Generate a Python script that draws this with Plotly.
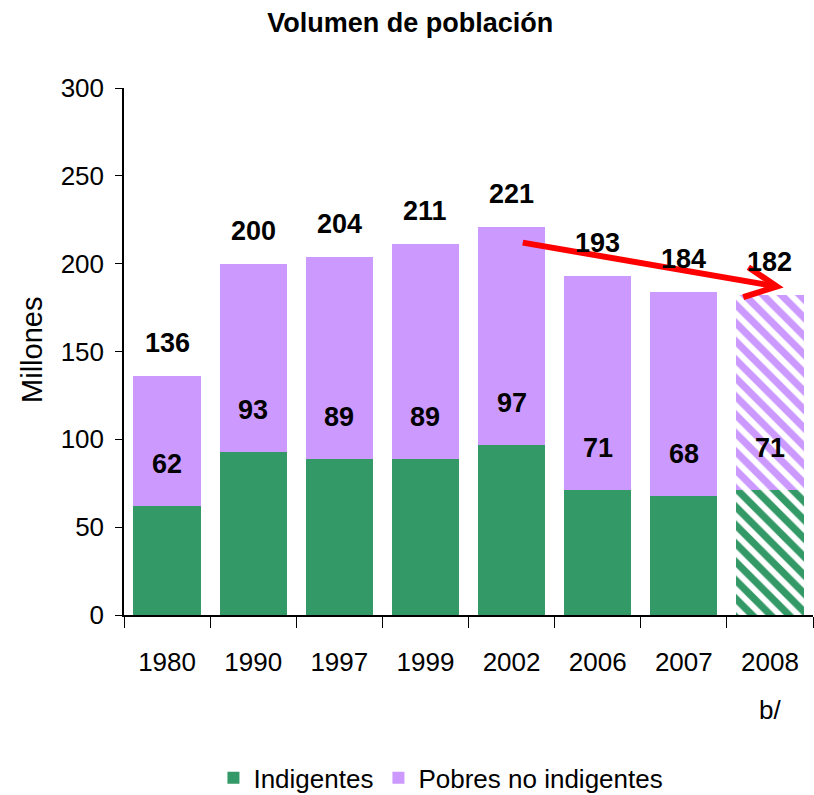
import plotly.graph_objects as go

years = ["1980", "1990", "1997", "1999", "2002", "2006", "2007", "2008"]
indigentes = [62, 93, 89, 89, 97, 71, 68, 71]
totales = [136, 200, 204, 211, 221, 193, 184, 182]
pobres_no_indigentes = [t - i for t, i in zip(totales, indigentes)]
proyectado = [False, False, False, False, False, False, False, True]
nota_2008 = "b/"

GREEN = "#339966"
PURPLE = "#CC99FF"
FONT = "Liberation Sans, Arial, sans-serif"

pat = ["\\" if p else "" for p in proyectado]

fig = go.Figure()
fig.add_trace(go.Bar(
    x=years, y=indigentes, name="Indigentes",
    marker=dict(color=GREEN, line=dict(width=0),
                pattern=dict(shape=pat, fgcolor="white", fgopacity=1, size=13, solidity=0.45, fillmode="overlay")),
))
fig.add_trace(go.Bar(
    x=years, y=pobres_no_indigentes, name="Pobres no indigentes",
    marker=dict(color=PURPLE, line=dict(width=0),
                pattern=dict(shape=pat, fgcolor="white", fgopacity=1, size=13, solidity=0.45, fillmode="overlay")),
))

annotations = []
for i, (ind, tot) in enumerate(zip(indigentes, totales)):
    annotations.append(dict(x=i, y=tot, xref="x", yref="y", text=f"<b>{tot}</b>", showarrow=False,
                            yshift=33, font=dict(size=27, color="black", family=FONT)))
    annotations.append(dict(x=i, y=ind, xref="x", yref="y", text=f"<b>{ind}</b>", showarrow=False,
                            yshift=42, font=dict(size=27, color="black", family=FONT)))

# footnote marker under the 2008 label
annotations.append(dict(x=years.index("2008"), y=0, xref="x", yref="paper", text=nota_2008,
                        showarrow=False, yshift=-95, xanchor="center", yanchor="middle",
                        font=dict(size=26, color="black", family=FONT)))
# y-axis title
annotations.append(dict(x=0, y=0.503, xref="paper", yref="paper", text="Millones", textangle=-90,
                        showarrow=False, xshift=-92, xanchor="center", yanchor="middle",
                        font=dict(size=29, color="black", family=FONT)))

# trend arrow (decoration) from 2002 towards 2008
arrow_start = (4.13, 212)
arrow_tip = (7.08, 187)
arrow_head = [(6.75, 198), (6.69, 181)]
shapes = [
    dict(type="line", xref="x", yref="y", x0=arrow_start[0], y0=arrow_start[1],
         x1=arrow_tip[0], y1=arrow_tip[1], line=dict(color="#FF0000", width=6)),
    dict(type="path", xref="x", yref="y",
         path=f"M {arrow_head[0][0]},{arrow_head[0][1]} L {arrow_tip[0]},{arrow_tip[1]} L {arrow_head[1][0]},{arrow_head[1][1]}",
         line=dict(color="#FF0000", width=6)),
]

fig.update_layout(
    barmode="stack",
    bargap=0.22,
    width=814, height=795,
    margin=dict(l=124, r=1, t=88, b=180, autoexpand=False),
    paper_bgcolor="white", plot_bgcolor="white",
    font=dict(family=FONT, size=26, color="black"),
    title=dict(text="<b>Volumen de población</b>", x=0.504, xanchor="center", y=0.972, yanchor="middle",
               font=dict(size=27, family=FONT)),
    legend=dict(orientation="h", x=0.46, xanchor="center", y=-0.309, yanchor="middle",
                font=dict(size=26, family=FONT), itemwidth=30, traceorder="normal"),
    annotations=annotations,
    shapes=shapes,
    yaxis=dict(range=[0, 300], tickvals=[0, 50, 100, 150, 200, 250, 300],
               showline=True, linecolor="black", linewidth=1.5,
               ticks="outside", ticklen=7, tickcolor="black", showgrid=False, zeroline=False,
               ticklabelstandoff=6, tickfont=dict(size=26)),
    xaxis=dict(type="category", tickvals=years, ticktext=years, tickson="boundaries",
               showline=True, linecolor="black", linewidth=1.5, ticks="outside", ticklen=11,
               tickcolor="black", showgrid=False, tickfont=dict(size=26), range=[-0.5, 7.5],
               ticklabelstandoff=23),
)

fig.write_html("out.html", config={"displayModeBar": False},
               post_script="document.body.style.margin='0px';")
